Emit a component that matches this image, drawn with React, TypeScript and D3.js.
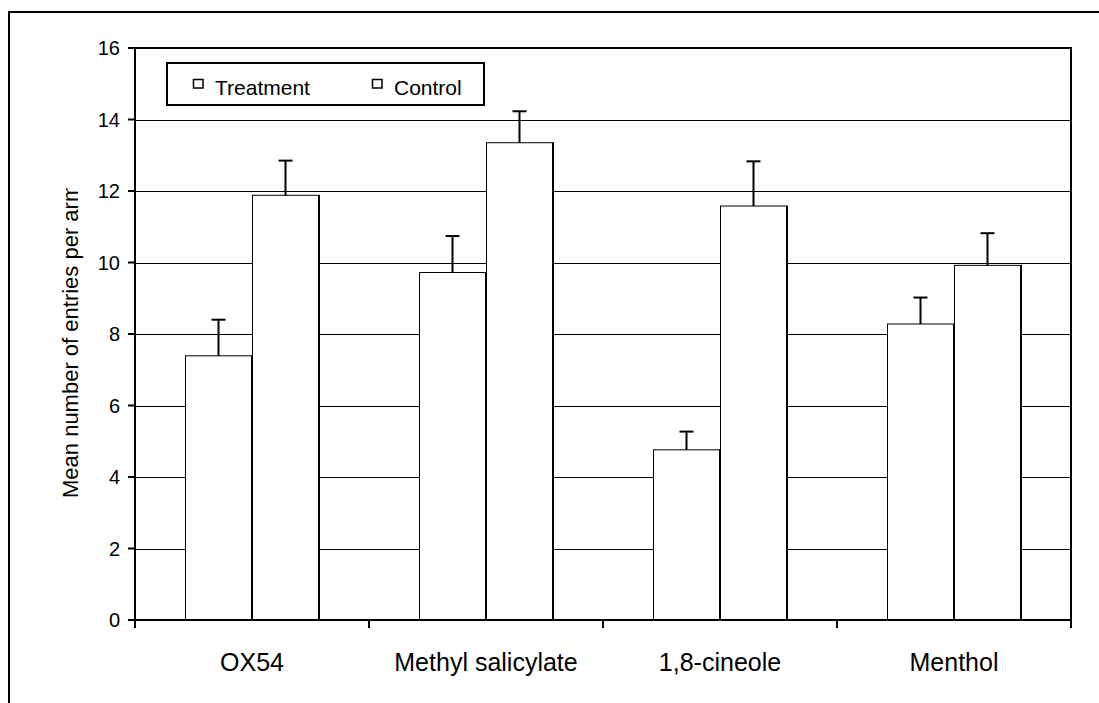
import React from "react";
import * as d3 from "d3";

const categories = ["OX54", "Methyl salicylate", "1,8-cineole", "Menthol"];
const seriesNames = ["Treatment", "Control"];
const treatment = [7.39, 9.72, 4.76, 8.28];
const treatmentErr = [1.01, 1.02, 0.51, 0.74];
const control = [11.88, 13.35, 11.58, 9.92];
const controlErr = [0.97, 0.88, 1.25, 0.9];
const yTicks = [0, 2, 4, 6, 8, 10, 12, 14, 16];
const yTitle = "Mean number of entries per arm";

const W = 1099;
const H = 703;
const plot = { left: 135, right: 1071, top: 48, bottom: 620 };
const FONT = "'Liberation Sans', Arial, sans-serif";

export default function App() {
  const y = d3.scaleLinear().domain([0, 16]).range([plot.bottom, plot.top]);
  const x0 = d3.scaleBand<string>().domain(categories).range([plot.left, plot.right]).padding(0);
  const bw = x0.bandwidth();
  const gap = (bw * (100 / 234)) / 2;
  const x1 = d3.scaleBand<string>().domain(seriesNames).range([gap, bw - gap]).padding(0);
  const series = [
    { name: "Treatment", vals: treatment, errs: treatmentErr },
    { name: "Control", vals: control, errs: controlErr },
  ];
  const boundaries = categories.map((c) => x0(c)!).concat([plot.right]);

  return (
    <svg width={W} height={H} style={{ position: "absolute", left: 0, top: 0, background: "#fff" }} fontFamily={FONT}>
      <defs>
        <clipPath id="titleClip">
          <rect x={0} y={188} width={130} height={500} />
        </clipPath>
      </defs>
      <rect x={0} y={0} width={W} height={H} fill="#fff" />
      {/* outer border */}
      <path d={`M9,${H + 5} L9,12 L${W + 5},12`} fill="none" stroke="#000" strokeWidth={2} />
      {/* gridlines */}
      {yTicks.filter((t) => t > 0 && t < 16).map((t) => (
        <line key={"g" + t} x1={plot.left} x2={plot.right} y1={Math.round(y(t)) + 0.5} y2={Math.round(y(t)) + 0.5} stroke="#000" strokeWidth={1} />
      ))}
      {/* plot border top/right */}
      <path d={`M${plot.left},${plot.top} L${plot.right},${plot.top} L${plot.right},${plot.bottom}`} fill="none" stroke="#000" strokeWidth={2} />
      {/* bars */}
      {categories.map((c, i) => (
        <g key={c}>
          {series.map((s) => {
            const bx = x0(c)! + x1(s.name)!;
            const w = x1.bandwidth();
            const top = y(s.vals[i]);
            const cx = bx + w / 2;
            const et = y(s.vals[i] + s.errs[i]);
            return (
              <g key={s.name}>
                <rect x={bx + 0.5} y={top} width={w} height={plot.bottom - top} fill="#fff" stroke="#000" strokeWidth={1} />
                <line x1={bx + w} x2={bx + w} y1={top} y2={plot.bottom} stroke="#000" strokeWidth={2} />
                <line x1={cx} x2={cx} y1={top} y2={et} stroke="#000" strokeWidth={2} />
                <line x1={cx - 7} x2={cx + 7} y1={et} y2={et} stroke="#000" strokeWidth={2} />
              </g>
            );
          })}
        </g>
      ))}
      {/* axes */}
      <line x1={plot.left} x2={plot.left} y1={plot.top - 1} y2={plot.bottom + 8} stroke="#000" strokeWidth={2} />
      <line x1={plot.left} x2={plot.right + 1} y1={plot.bottom} y2={plot.bottom} stroke="#000" strokeWidth={2} />
      {yTicks.map((t) => (
        <g key={"t" + t}>
          <line x1={plot.left - 7} x2={plot.left} y1={y(t)} y2={y(t)} stroke="#000" strokeWidth={2} />
          <text x={120} y={y(t)} dy="0.35em" textAnchor="end" fontSize={20} fill="#000">{t}</text>
        </g>
      ))}
      {boundaries.map((b, i) => (
        <line key={"xb" + i} x1={b} x2={b} y1={plot.bottom} y2={plot.bottom + 8} stroke="#000" strokeWidth={2} />
      ))}
      {categories.map((c) => (
        <text key={"l" + c} x={x0(c)! + bw / 2} y={671} textAnchor="middle" fontSize={25} fill="#000">{c}</text>
      ))}
      {/* y title */}
      <g clipPath="url(#titleClip)">
        <text transform="translate(78,498) rotate(-90)" textAnchor="start" fontSize={22} fill="#000">{yTitle}</text>
      </g>
      {/* legend */}
      <rect x={167} y={63} width={317} height={42} fill="#fff" stroke="#000" strokeWidth={2} />
      {seriesNames.map((n, i) => {
        const lx = i === 0 ? 193 : 372;
        return (
          <g key={"lg" + n}>
            <rect x={lx + 0.5} y={79.5} width={9.5} height={8.5} fill="#fff" stroke="#000" strokeWidth={1.5} />
            <text x={lx + 22} y={95} fontSize={21} fill="#000">{n}</text>
          </g>
        );
      })}
    </svg>
  );
}
